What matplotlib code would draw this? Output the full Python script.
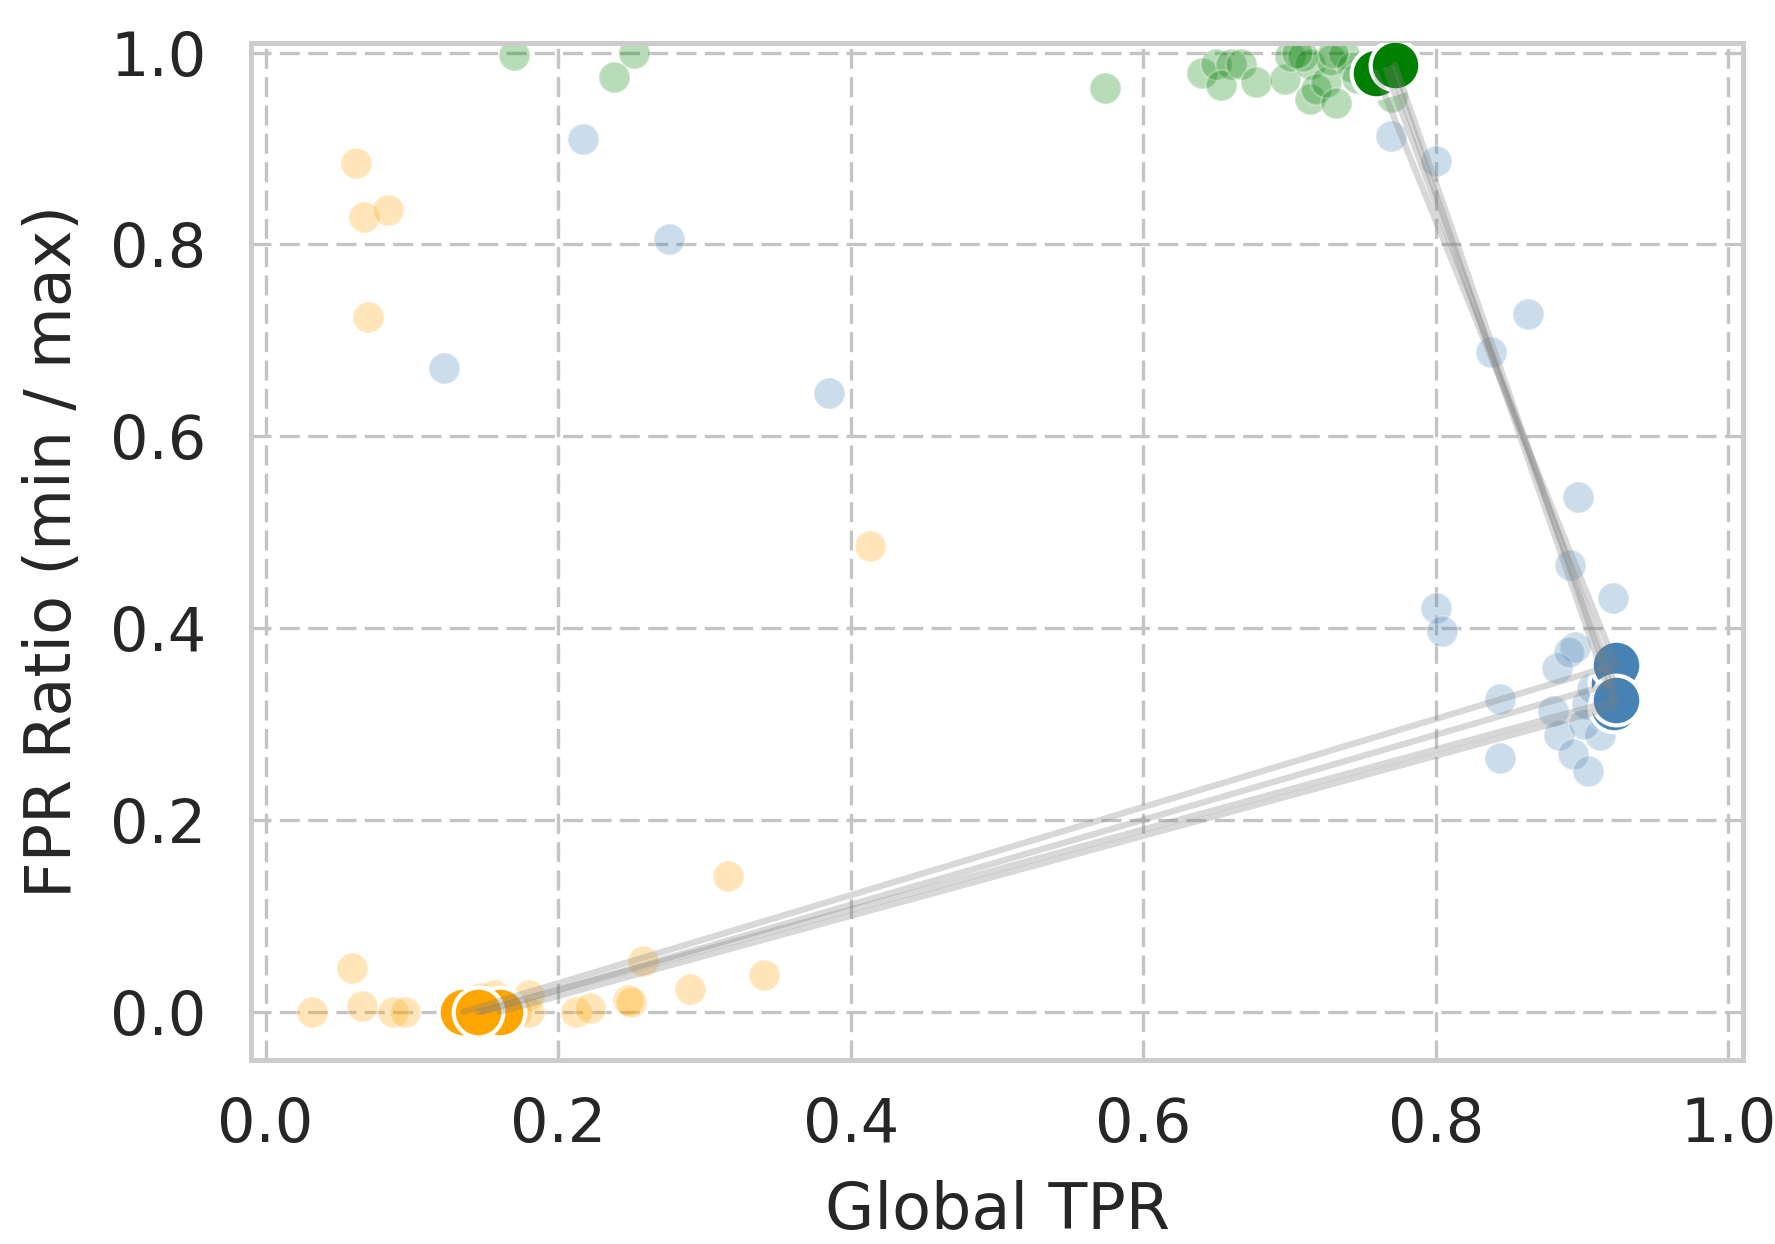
import matplotlib
matplotlib.use("Agg")
import matplotlib.pyplot as plt
import numpy as np

# ---------------- data ----------------
# background (all configurations) per group
orange_x = [0.062, 0.067, 0.084, 0.070, 0.413, 0.316, 0.059, 0.032, 0.066, 0.087,
            0.095, 0.156, 0.180, 0.180, 0.212, 0.222, 0.248, 0.258, 0.290, 0.341,
            0.128, 0.147, 0.172, 0.250]
orange_y = [0.885, 0.829, 0.836, 0.724, 0.486, 0.142, 0.046, 0.000, 0.006, 0.000,
            0.000, 0.018, 0.018, 0.000, 0.000, 0.004, 0.012, 0.053, 0.024, 0.039,
            0.000, 0.015, 0.000, 0.010]

blue_x = [0.217, 0.276, 0.122, 0.385, 0.769, 0.800, 0.863, 0.838, 0.897, 0.892,
          0.921, 0.800, 0.804, 0.895, 0.883, 0.844, 0.880, 0.903, 0.884, 0.912,
          0.894, 0.844, 0.904, 0.928, 0.901, 0.915, 0.907, 0.891]
blue_y = [0.910, 0.806, 0.671, 0.645, 0.913, 0.887, 0.728, 0.688, 0.537, 0.466,
          0.431, 0.421, 0.397, 0.380, 0.359, 0.326, 0.314, 0.321, 0.289, 0.289,
          0.269, 0.265, 0.251, 0.370, 0.300, 0.310, 0.338, 0.375]

green_x = [0.170, 0.252, 0.238, 0.574, 0.640, 0.650, 0.660, 0.653, 0.667, 0.677,
           0.697, 0.700, 0.714, 0.714, 0.718, 0.725, 0.732, 0.728, 0.737, 0.743,
           0.746, 0.709, 0.705, 0.730, 0.770]
green_y = [0.998, 1.000, 0.975, 0.963, 0.979, 0.988, 0.988, 0.966, 0.988, 0.969,
           0.973, 0.997, 0.988, 0.952, 0.962, 0.969, 0.948, 0.992, 0.999, 0.985,
           0.974, 0.997, 1.000, 1.000, 0.954]

# selected runs: orange -> blue -> green
sel_orange_x = [0.148, 0.160, 0.135, 0.145]
sel_orange_y = [0.000, 0.000, 0.000, 0.000]
sel_blue_x = [0.922, 0.922, 0.923, 0.923]
sel_blue_y = [0.343, 0.318, 0.362, 0.325]
sel_green_x = [0.766, 0.770, 0.759, 0.772]
sel_green_y = [0.982, 0.984, 0.979, 0.987]

ORANGE = "orange"
BLUE = "steelblue"
GREEN = "green"

# ---------------- figure ----------------
fig = plt.figure(figsize=(8.875, 6.22), dpi=200)
ax = fig.add_axes([0.1414, 0.148, 0.8406, 0.8174])

for sp in ax.spines.values():
    sp.set_color("#cccccc")
    sp.set_linewidth(1.8)

ax.set_xlim(-0.01, 1.01)
ax.set_ylim(-0.05, 1.01)
ticks = [0.0, 0.2, 0.4, 0.6, 0.8, 1.0]
ax.set_xticks(ticks)
ax.set_yticks(ticks)
ax.set_xticklabels([f"{t:.1f}" for t in ticks])
ax.set_yticklabels([f"{t:.1f}" for t in ticks])
ax.tick_params(axis="both", length=0, labelsize=21.8, colors="#262626")
ax.tick_params(axis="x", pad=13)
ax.tick_params(axis="y", pad=16)
ax.grid(True, color="#c4c4c4", linestyle=(0, (6, 2.5)), linewidth=1.2, zorder=0)
ax.set_axisbelow(True)

# background points
for xs, ys, c in [(orange_x, orange_y, ORANGE), (blue_x, blue_y, BLUE), (green_x, green_y, GREEN)]:
    ax.scatter(xs, ys, s=125, color=c, alpha=0.28, edgecolors="white", linewidths=0.8, zorder=2)

# selected points
for xs, ys, c in [(sel_orange_x, sel_orange_y, ORANGE), (sel_blue_x, sel_blue_y, BLUE),
                  (sel_green_x, sel_green_y, GREEN)]:
    ax.scatter(xs, ys, s=320, color=c, alpha=1.0, edgecolors="white", linewidths=1.5, zorder=3)

# connecting lines
for i in range(len(sel_orange_x)):
    ax.plot([sel_orange_x[i], sel_blue_x[i], sel_green_x[i]],
            [sel_orange_y[i], sel_blue_y[i], sel_green_y[i]],
            color="gray", alpha=0.3, linewidth=2.3, zorder=4, solid_capstyle="round")

ax.set_xlabel("Global TPR", fontsize=22.9, color="#262626")
ax.set_ylabel("FPR Ratio (min / max)", fontsize=22.9, color="#262626")
ax.xaxis.set_label_coords(0.5, -0.118)
ax.yaxis.set_label_coords(-0.112, 0.5)

fig.savefig("out.png", dpi=200)
